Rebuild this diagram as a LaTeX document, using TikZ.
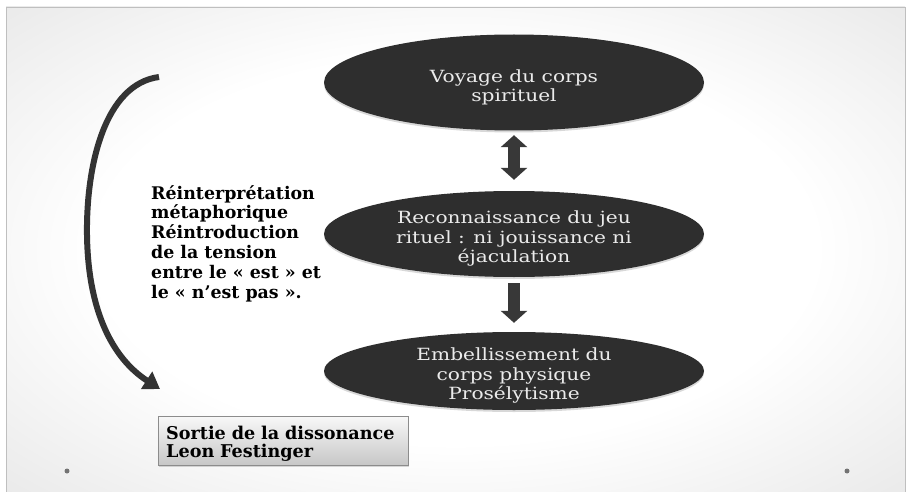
\documentclass[tikz,border=0pt]{standalone}
\usepackage{fontspec}
\setmainfont{DejaVu Serif}
\newfontfamily\widefont[FakeStretch=1.2]{DejaVu Serif}
\usetikzlibrary{positioning, arrows.meta, shapes.geometric, shadows}

\pgfdeclareradialshading{slide_glow}{\pgfpoint{0bp}{0bp}}{color(0bp)=(white); color(20bp)=(white); color(50bp)=(black!16); color(71bp)=(black!30)}

\begin{document}
\begin{tikzpicture}
    [
        x=1pt, y=-1pt, on grid,
        dark_node/.style={ellipse, fill=black!82, minimum width=380pt, inner xsep=0pt, inner ysep=-14pt, align=center, text=black!8, font=\widefont\fontsize{16.8}{19.5}\selectfont, drop shadow={opacity=0.3, shadow xshift=0pt, shadow yshift=-2pt}},
        fat_arrow/.style={line width=12pt, color=black!78},
        side_text/.style={inner sep=0pt, align=left, font=\bfseries\fontsize{17.4}{19.8}\selectfont},
        note_box/.style={draw=black!45, top color=black!3, bottom color=black!22, text width=234pt, inner xsep=8pt, inner ysep=4pt, minimum height=47pt, align=left, font=\bfseries\fontsize{17.6}{18.5}\selectfont, drop shadow={opacity=0.3, shadow xshift=1pt, shadow yshift=-1.5pt}},
        dot_mark/.style={circle, fill=black!55, inner sep=0pt, minimum size=5pt},
    ]
        \useasboundingbox (0,0) rectangle (910,492) ;
        \shade[shading=slide_glow] (6,7) rectangle (905,492) ;
        \draw[black!25, line width=0.6pt] (6,492) -- (6,7) -- (905,7) -- (905,492) ;

        \node[dark_node, minimum height=96pt] (voyage) at (514,82.5) {\rule{0pt}{22pt}Voyage du corps\\spirituel} ;
        \node[dark_node, minimum height=86pt] (jeu) [below = 151.5pt of voyage] {\rule{0pt}{22pt}Reconnaissance du jeu\\rituel : ni jouissance ni\\éjaculation} ;
        \node[dark_node, minimum height=78pt] (corps) [below = 137pt of jeu] {\rule{0pt}{22pt}Embellissement du\\corps physique\\Prosélytisme} ;

        \draw[fat_arrow, {Triangle[width=26pt,length=12pt]}-{Triangle[width=26pt,length=12pt]}, shorten <=4.5pt, shorten >=11pt] (voyage) -- (jeu) ;
        \draw[fat_arrow, -{Triangle[width=26pt,length=12pt]}, shorten <=6pt, shorten >=9pt] (jeu) -- (corps) ;

        \coordinate (loop_top) at (159,77) ;
        \coordinate (loop_end) at (160,389) ;
        \draw[line width=6pt, black!80, -{Triangle[width=20pt,length=16pt]}] (loop_top) .. controls (105,84) and (86,165) .. (87,235) .. controls (88,310) and (112,358) .. (loop_end) ;

        \node[side_text, anchor=north west] (reinterp) at (151,185) {Réinterprétation\\métaphorique\\Réintroduction\\de la tension\\entre le « est » et\\le « n’est pas ».} ;

        \node[note_box, anchor=north west] (festinger) at (158,416) {\rule{0pt}{19pt}Sortie de la dissonance\\Leon Festinger} ;

        \node[dot_mark] (dot_left) at (67,471) {} ;
        \node[dot_mark] (dot_right) at (847,471) {} ;
    \end{tikzpicture}
\end{document}
